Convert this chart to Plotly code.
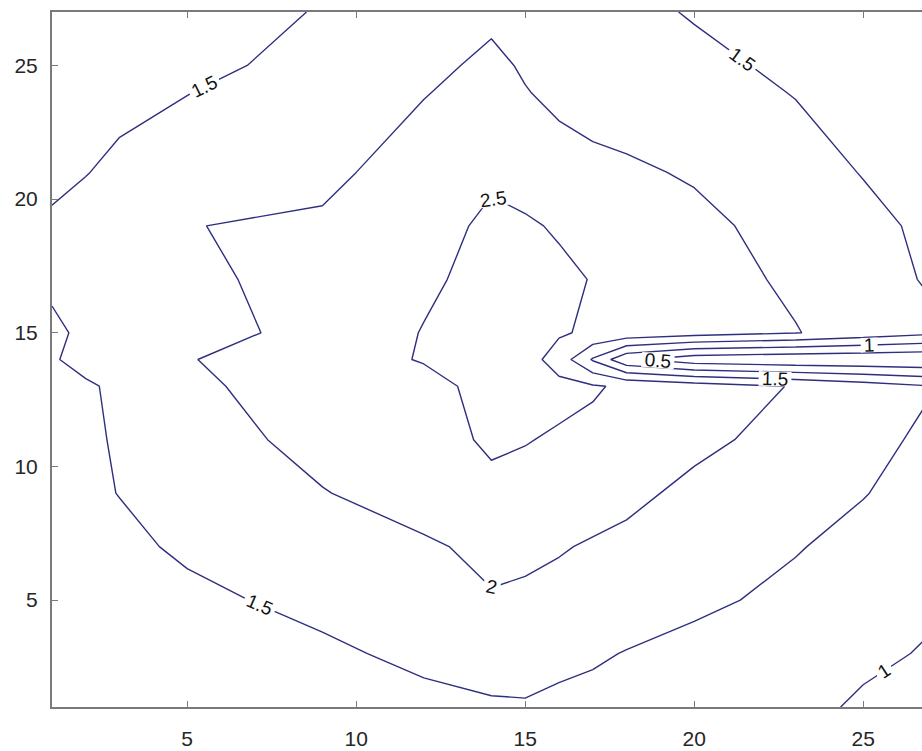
import plotly.graph_objects as go

# Grid node positions (non-uniform) of the measured field
x_nodes = [1, 2, 3, 5, 9, 12, 14, 15, 16, 17, 18, 20, 23, 25, 27]
y_nodes = [1, 3, 5, 7, 9, 11, 13, 14, 15, 17, 19, 21, 24, 25, 27]

# Field values, one row per y node (bottom to top)
z_y01 = [1.05, 1.10, 1.15, 1.20, 1.30, 1.38, 1.46, 1.47, 1.40, 1.36, 1.33, 1.25, 1.10, 0.95, 0.85]
z_y03 = [1.10, 1.15, 1.20, 1.30, 1.42, 1.60, 1.65, 1.65, 1.62, 1.56, 1.48, 1.35, 1.20, 1.07, 0.97]
z_y05 = [1.15, 1.22, 1.28, 1.40, 1.62, 1.82, 1.97, 1.92, 1.88, 1.82, 1.75, 1.60, 1.38, 1.20, 1.05]
z_y07 = [1.22, 1.32, 1.40, 1.57, 1.80, 1.94, 2.10, 2.10, 2.03, 1.96, 1.90, 1.78, 1.53, 1.35, 1.20]
z_y09 = [1.30, 1.42, 1.51, 1.68, 1.98, 2.20, 2.42, 2.35, 2.27, 2.18, 2.10, 1.90, 1.70, 1.52, 1.30]
z_y11 = [1.33, 1.45, 1.53, 1.78, 2.15, 2.36, 2.55, 2.52, 2.45, 2.38, 2.30, 2.10, 1.85, 1.62, 1.42]
z_y13 = [1.35, 1.46, 1.56, 1.88, 2.30, 2.40, 2.60, 2.68, 2.62, 2.55, 2.42, 2.25, 1.97, 1.75, 1.52]
z_y14 = [1.47, 1.60, 1.70, 1.97, 2.35, 2.52, 2.75, 2.70, 2.30, 1.45, 0.60, 0.20, 0.10, 0.08, 0.05]
z_y15 = [1.45, 1.55, 1.65, 1.82, 2.15, 2.52, 2.80, 2.75, 2.55, 2.42, 2.35, 2.20, 2.02, 1.80, 1.60]
z_y17 = [1.55, 1.63, 1.72, 1.88, 2.20, 2.42, 2.65, 2.68, 2.60, 2.48, 2.40, 2.20, 1.92, 1.70, 1.45]
z_y19 = [1.55, 1.62, 1.70, 1.99, 2.06, 2.30, 2.60, 2.56, 2.45, 2.35, 2.28, 2.10, 1.85, 1.63, 1.40]
z_y21 = [1.42, 1.49, 1.57, 1.72, 1.90, 2.20, 2.42, 2.30, 2.18, 2.10, 2.06, 1.96, 1.70, 1.48, 1.30]
z_y24 = [1.30, 1.36, 1.41, 1.49, 1.72, 1.98, 2.15, 2.02, 1.90, 1.84, 1.80, 1.70, 1.48, 1.35, 1.20]
z_y25 = [1.25, 1.30, 1.35, 1.42, 1.60, 1.88, 2.10, 1.95, 1.84, 1.78, 1.72, 1.60, 1.42, 1.28, 1.15]
z_y27 = [1.18, 1.22, 1.26, 1.35, 1.52, 1.75, 1.90, 1.80, 1.72, 1.65, 1.60, 1.47, 1.30, 1.15, 1.00]

z_rows = [z_y01, z_y03, z_y05, z_y07, z_y09, z_y11, z_y13, z_y14,
          z_y15, z_y17, z_y19, z_y21, z_y24, z_y25, z_y27]

# Contour levels and tick labels
level_start, level_end, level_step = 0.5, 2.5, 0.5
tick_vals = [5, 10, 15, 20, 25]

LINE = "#2f2f7f"
AXIS = "#7a7a7a"
FONT = "Liberation Sans, Arial, sans-serif"

fig = go.Figure(
    go.Contour(
        x=x_nodes,
        y=y_nodes,
        z=z_rows,
        contours=dict(
            start=level_start,
            end=level_end,
            size=level_step,
            coloring="lines",
            showlabels=True,
            labelfont=dict(family=FONT, size=19, color="#111111"),
        ),
        colorscale=[[0, LINE], [1, LINE]],
        showscale=False,
        line=dict(width=1.4, smoothing=0),
        hoverinfo="skip",
    )
)

fig.update_layout(
    width=922,
    height=751,
    margin=dict(l=52, r=0, t=12, b=44),
    paper_bgcolor="white",
    plot_bgcolor="white",
    showlegend=False,
    font=dict(family=FONT, size=21, color="#262626"),
)

fig.update_xaxes(
    range=[1, 26.74],
    tickvals=tick_vals,
    ticks="inside",
    ticklen=6,
    tickcolor=AXIS,
    tickwidth=1,
    showline=True,
    linecolor=AXIS,
    linewidth=2,
    mirror="ticks",
    showgrid=False,
    zeroline=False,
    ticklabelstandoff=12,
)
fig.update_yaxes(
    range=[1, 27],
    tickvals=tick_vals,
    ticks="inside",
    ticklen=6,
    tickcolor=AXIS,
    tickwidth=1,
    showline=True,
    linecolor=AXIS,
    linewidth=2,
    mirror=False,
    showgrid=False,
    zeroline=False,
    ticklabelstandoff=8,
)

fig.write_html("out.html")
